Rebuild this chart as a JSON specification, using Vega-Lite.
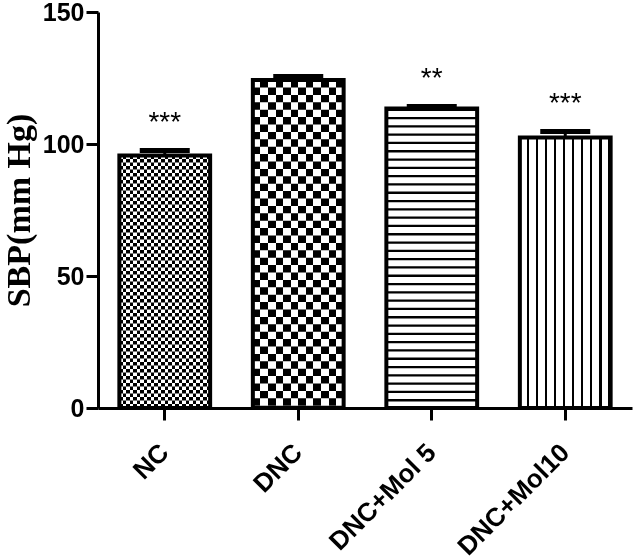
{
  "$schema": "https://vega.github.io/schema/vega-lite/v6.json",
  "width": 534,
  "height": 396,
  "autosize": {"type": "none"},
  "padding": {"left": 98, "top": 12, "right": 1, "bottom": 152},
  "background": "white",
  "config": {
    "view": {"stroke": null},
    "axis": {"grid": false, "domainColor": "#000", "domainWidth": 3, "tickColor": "#000", "tickWidth": 3, "tickSize": 12, "labelColor": "#000", "labelFont": "Liberation Sans", "labelFontWeight": "bold"}
  },
  "data": {
    "values": [
      {"group": "NC", "sbp": 95.6, "upper": 97.5, "star": "***"},
      {"group": "DNC", "sbp": 124.2, "upper": 125.6, "star": ""},
      {"group": "DNC+Mol 5", "sbp": 113.4, "upper": 114.2, "star": "**"},
      {"group": "DNC+Mol10", "sbp": 102.5, "upper": 104.7, "star": "***"}
    ]
  },
  "encoding": {
    "x": {
      "field": "group", "type": "nominal",
      "sort": ["NC", "DNC", "DNC+Mol 5", "DNC+Mol10"],
      "scale": {"paddingInner": 0.32, "paddingOuter": 0.16},
      "title": null,
      "axis": {"labelAngle": -45, "labelAlign": "right", "labelBaseline": "middle", "labelFontSize": 26, "labelPadding": 28}
    },
    "y": {
      "field": "sbp", "type": "quantitative",
      "scale": {"domain": [0, 150], "nice": false},
      "title": "SBP(mm Hg)",
      "axis": {"values": [0, 50, 100, 150], "labelFontSize": 25, "labelPadding": 2, "titleFont": "Liberation Serif", "titleFontSize": 34, "titleFontWeight": "bold", "titleColor": "#000", "titlePadding": 6}
    }
  },
  "layer": [
    {"mark": {"type": "bar", "fill": "#ffffff", "strokeWidth": 0}},
    {
      "transform": [{"filter": "datum.group === 'NC'"}],
      "mark": {"type": "rule", "color": "#000", "strokeWidth": 90.8, "strokeDash": [3.5, 3.5]},
      "encoding": {"y2": {"datum": 0}}
    },
    {
      "transform": [{"filter": "datum.group === 'DNC'"}],
      "mark": {"type": "rule", "color": "#000", "strokeWidth": 90.8, "strokeDash": [7.4, 7.4]},
      "encoding": {"y2": {"datum": 0}}
    },
    {
      "transform": [{"filter": "datum.group === 'DNC+Mol 5'"}],
      "mark": {"type": "rule", "color": "#000", "strokeWidth": 90.8, "strokeDash": [2.3, 6.0]},
      "encoding": {"y2": {"datum": 0}}
    },
    {
      "transform": [{"filter": "datum.group === 'NC'"}],
      "mark": {"type": "bar", "blend": "difference", "strokeWidth": 0, "fill": {"gradient": "linear", "x1": 0, "y1": 0, "x2": 1, "y2": 0, "stops": [
        {"offset": 0, "color": "#ffffff"}, {"offset": 0.0385, "color": "#ffffff"}, {"offset": 0.0385, "color": "#000000"}, {"offset": 0.0769, "color": "#000000"},
        {"offset": 0.0769, "color": "#ffffff"}, {"offset": 0.1154, "color": "#ffffff"}, {"offset": 0.1154, "color": "#000000"}, {"offset": 0.1538, "color": "#000000"},
        {"offset": 0.1538, "color": "#ffffff"}, {"offset": 0.1923, "color": "#ffffff"}, {"offset": 0.1923, "color": "#000000"}, {"offset": 0.2308, "color": "#000000"},
        {"offset": 0.2308, "color": "#ffffff"}, {"offset": 0.2692, "color": "#ffffff"}, {"offset": 0.2692, "color": "#000000"}, {"offset": 0.3077, "color": "#000000"},
        {"offset": 0.3077, "color": "#ffffff"}, {"offset": 0.3462, "color": "#ffffff"}, {"offset": 0.3462, "color": "#000000"}, {"offset": 0.3846, "color": "#000000"},
        {"offset": 0.3846, "color": "#ffffff"}, {"offset": 0.4231, "color": "#ffffff"}, {"offset": 0.4231, "color": "#000000"}, {"offset": 0.4615, "color": "#000000"},
        {"offset": 0.4615, "color": "#ffffff"}, {"offset": 0.5, "color": "#ffffff"}, {"offset": 0.5, "color": "#000000"}, {"offset": 0.5385, "color": "#000000"},
        {"offset": 0.5385, "color": "#ffffff"}, {"offset": 0.5769, "color": "#ffffff"}, {"offset": 0.5769, "color": "#000000"}, {"offset": 0.6154, "color": "#000000"},
        {"offset": 0.6154, "color": "#ffffff"}, {"offset": 0.6538, "color": "#ffffff"}, {"offset": 0.6538, "color": "#000000"}, {"offset": 0.6923, "color": "#000000"},
        {"offset": 0.6923, "color": "#ffffff"}, {"offset": 0.7308, "color": "#ffffff"}, {"offset": 0.7308, "color": "#000000"}, {"offset": 0.7692, "color": "#000000"},
        {"offset": 0.7692, "color": "#ffffff"}, {"offset": 0.8077, "color": "#ffffff"}, {"offset": 0.8077, "color": "#000000"}, {"offset": 0.8462, "color": "#000000"},
        {"offset": 0.8462, "color": "#ffffff"}, {"offset": 0.8846, "color": "#ffffff"}, {"offset": 0.8846, "color": "#000000"}, {"offset": 0.9231, "color": "#000000"},
        {"offset": 0.9231, "color": "#ffffff"}, {"offset": 0.9615, "color": "#ffffff"}, {"offset": 0.9615, "color": "#000000"}, {"offset": 1, "color": "#000000"}
      ]}}
    },
    {
      "transform": [{"filter": "datum.group === 'DNC'"}],
      "mark": {"type": "bar", "blend": "difference", "strokeWidth": 0, "fill": {"gradient": "linear", "x1": 0, "y1": 0, "x2": 1, "y2": 0, "stops": [
        {"offset": 0, "color": "#ffffff"}, {"offset": 0.0833, "color": "#ffffff"}, {"offset": 0.0833, "color": "#000000"}, {"offset": 0.1667, "color": "#000000"},
        {"offset": 0.1667, "color": "#ffffff"}, {"offset": 0.25, "color": "#ffffff"}, {"offset": 0.25, "color": "#000000"}, {"offset": 0.3333, "color": "#000000"},
        {"offset": 0.3333, "color": "#ffffff"}, {"offset": 0.4167, "color": "#ffffff"}, {"offset": 0.4167, "color": "#000000"}, {"offset": 0.5, "color": "#000000"},
        {"offset": 0.5, "color": "#ffffff"}, {"offset": 0.5833, "color": "#ffffff"}, {"offset": 0.5833, "color": "#000000"}, {"offset": 0.6667, "color": "#000000"},
        {"offset": 0.6667, "color": "#ffffff"}, {"offset": 0.75, "color": "#ffffff"}, {"offset": 0.75, "color": "#000000"}, {"offset": 0.8333, "color": "#000000"},
        {"offset": 0.8333, "color": "#ffffff"}, {"offset": 0.9167, "color": "#ffffff"}, {"offset": 0.9167, "color": "#000000"}, {"offset": 1, "color": "#000000"}
      ]}}
    },
    {
      "transform": [{"filter": "datum.group === 'DNC+Mol10'"}],
      "mark": {"type": "bar", "strokeWidth": 0, "fill": {"gradient": "linear", "x1": 0, "y1": 0, "x2": 1, "y2": 0, "stops": [
        {"offset": 0, "color": "#ffffff"}, {"offset": 0.076, "color": "#ffffff"}, {"offset": 0.076, "color": "#000000"}, {"offset": 0.1, "color": "#000000"},
        {"offset": 0.1, "color": "#ffffff"}, {"offset": 0.176, "color": "#ffffff"}, {"offset": 0.176, "color": "#000000"}, {"offset": 0.2, "color": "#000000"},
        {"offset": 0.2, "color": "#ffffff"}, {"offset": 0.276, "color": "#ffffff"}, {"offset": 0.276, "color": "#000000"}, {"offset": 0.3, "color": "#000000"},
        {"offset": 0.3, "color": "#ffffff"}, {"offset": 0.376, "color": "#ffffff"}, {"offset": 0.376, "color": "#000000"}, {"offset": 0.4, "color": "#000000"},
        {"offset": 0.4, "color": "#ffffff"}, {"offset": 0.476, "color": "#ffffff"}, {"offset": 0.476, "color": "#000000"}, {"offset": 0.5, "color": "#000000"},
        {"offset": 0.5, "color": "#ffffff"}, {"offset": 0.576, "color": "#ffffff"}, {"offset": 0.576, "color": "#000000"}, {"offset": 0.6, "color": "#000000"},
        {"offset": 0.6, "color": "#ffffff"}, {"offset": 0.676, "color": "#ffffff"}, {"offset": 0.676, "color": "#000000"}, {"offset": 0.7, "color": "#000000"},
        {"offset": 0.7, "color": "#ffffff"}, {"offset": 0.776, "color": "#ffffff"}, {"offset": 0.776, "color": "#000000"}, {"offset": 0.8, "color": "#000000"},
        {"offset": 0.8, "color": "#ffffff"}, {"offset": 0.876, "color": "#ffffff"}, {"offset": 0.876, "color": "#000000"}, {"offset": 0.9, "color": "#000000"},
        {"offset": 0.9, "color": "#ffffff"}, {"offset": 0.976, "color": "#ffffff"}, {"offset": 0.976, "color": "#000000"}, {"offset": 1, "color": "#000000"}
      ]}}
    },
    {"mark": {"type": "bar", "fill": "transparent", "stroke": "#000000", "strokeWidth": 4}},
    {
      "mark": {"type": "rule", "color": "#000000", "strokeWidth": 3},
      "encoding": {"y2": {"field": "upper"}}
    },
    {
      "mark": {"type": "tick", "color": "#000000", "size": 50, "thickness": 5, "opacity": 1},
      "encoding": {"y": {"field": "upper", "type": "quantitative", "title": "SBP(mm Hg)"}}
    },
    {
      "mark": {"type": "text", "color": "#000000", "font": "Liberation Sans", "fontSize": 28, "baseline": "alphabetic", "dy": -20},
      "encoding": {"y": {"field": "upper", "type": "quantitative", "title": "SBP(mm Hg)"}, "text": {"field": "star"}}
    }
  ]
}
